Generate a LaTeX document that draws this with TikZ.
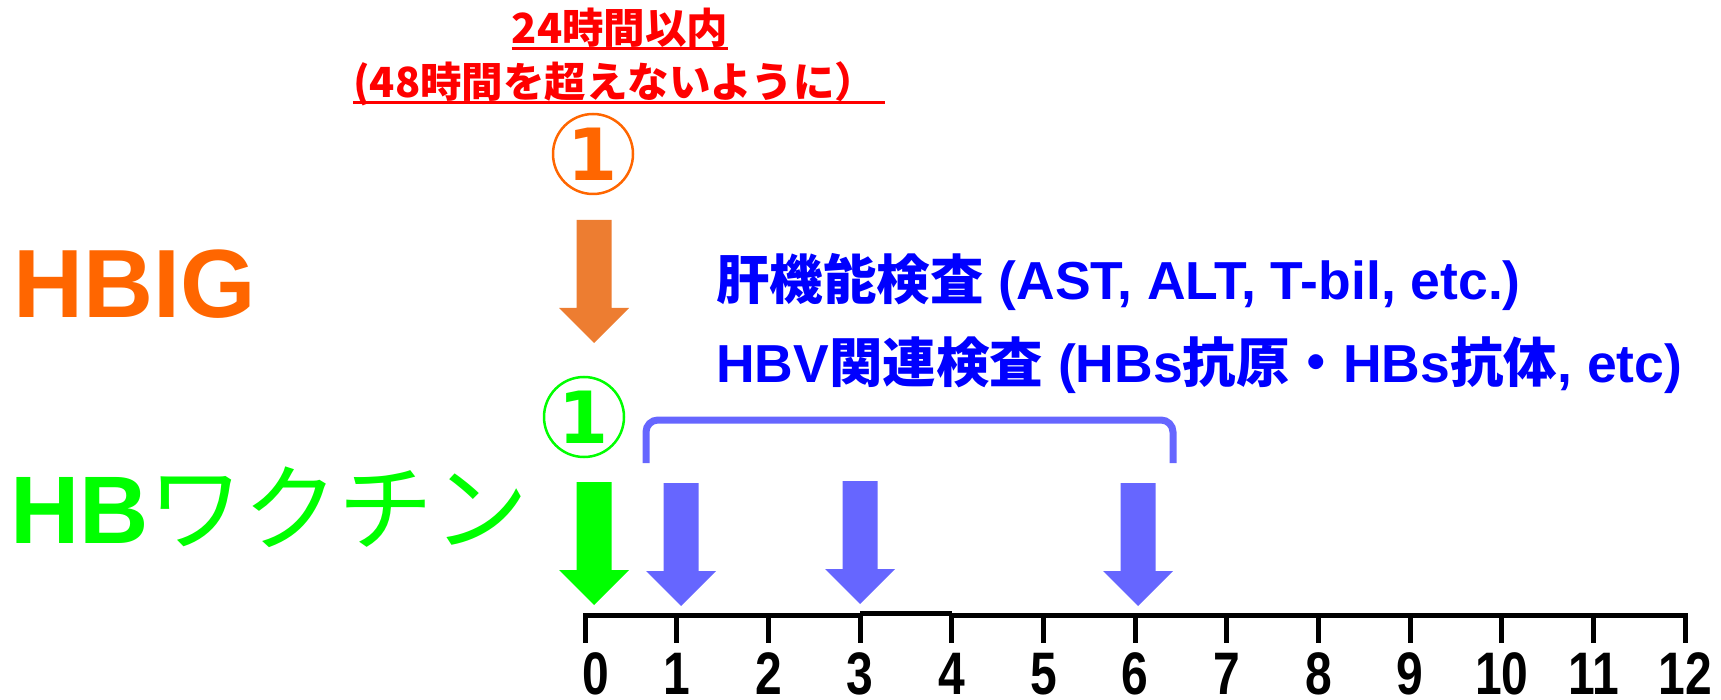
\documentclass[tikz,border=0pt]{standalone}
\usepackage{fontspec}
\setmainfont{Liberation Sans}
\newfontfamily\jp{Noto Sans CJK JP}
\newfontfamily\numfont[FakeStretch=0.8]{Liberation Sans}
\newfontfamily\circfont{DejaVu Sans}
\definecolor{hbig}{RGB}{255,102,0}
\definecolor{arroworange}{RGB}{237,125,49}
\definecolor{vgreen}{RGB}{0,255,0}
\definecolor{lblue}{RGB}{102,102,255}
\definecolor{tblue}{RGB}{0,0,255}
\definecolor{tred}{RGB}{255,0,0}
\tikzset{
  blockarrow/.pic={
    \fill (-17.5,0) -- (17.5,0) -- (17.5,88) -- (35,88) -- (0,123) -- (-35,88) -- (-17.5,88) -- cycle;
  },
  redtxt/.style={text=tred, inner sep=0, font=\jp\bfseries\fontsize{41.5}{45}\selectfont},
  bluetxt/.style={text=tblue, inner sep=0, anchor=base west, font=\bfseries\fontsize{53.5}{58}\selectfont},
  bigtxt/.style={inner sep=0, anchor=base west, font=\bfseries\fontsize{97}{107}\selectfont},
  numlbl/.style={inner sep=0, anchor=base, font=\numfont\bfseries\fontsize{60}{66}\selectfont},
  circnum/.style={circle, line width=2.5, minimum size=80, inner sep=0, font=\circfont\bfseries\fontsize{72}{76}\selectfont},
  axisline/.style={line width=5, black},
  ulin/.style={tred, line width=3},
}
\begin{document}
\begin{tikzpicture}[x=1pt,y=-1pt]
\useasboundingbox (0,0) rectangle (1721,700);

% red notes
\node[redtxt, anchor=base] (r1) at (620,44) {24時間以内};
\draw[ulin] ([yshift=-5pt]r1.base west) -- ([yshift=-5pt]r1.base east);
\node[redtxt, anchor=base west] (r2) at (353,98) {(48時間を超えないように）};
\coordinate (r2e) at (885,103);
\draw[ulin] ([yshift=-5pt]r2.base west) -- (r2e);

% left labels
\node[bigtxt, text=hbig] (hbig) at (13,318) {HBIG};
\node[bigtxt, text=vgreen, font=\bfseries\fontsize{96}{106}\selectfont] (hbv) at (10,543) {HB{\jp\mdseries\fontsize{95}{100}\selectfont ワクチン}};

% circled ones
\node[circnum, draw=hbig, text=hbig] (c1) at (593,154) {1};
\node[circnum, draw=vgreen, text=vgreen] (c2) at (584,417) {1};

% block arrows
\pic[fill=arroworange] at (594,220) {blockarrow};
\pic[fill=vgreen] at (594,482) {blockarrow};
\pic[fill=lblue] at (681,483) {blockarrow};
\pic[fill=lblue] at (860,481) {blockarrow};
\pic[fill=lblue] at (1138,483) {blockarrow};

% blue texts
\node[bluetxt] (b1) at (716,300) {{\jp 肝機能検査} (AST, ALT, T-bil, etc.)};
\node[bluetxt] (b2) at (716,382) {HBV{\jp 関連検査} (HBs{\jp 抗原・}HBs{\jp 抗体}, etc)};

% bracket
\coordinate (bl) at (646,463);
\coordinate (br) at (1173,463);
\draw[lblue, line width=7, rounded corners=12] (bl) -- (646,420) -- (1173,420) -- (br);

% axis
\draw[axisline] (583,615) -- (860,615);
\draw[axisline] (860,613) -- (952,613);
\draw[axisline] (952,615) -- (1688,615);
\foreach \k in {0,...,12}{
  \coordinate (t\k) at ({585+91.67*\k},615);
  \draw[axisline] (t\k) -- ++(0,28);
}
\node[numlbl] (l0) at (596,694) {0};
\foreach \k in {1,...,12}{
  \node[numlbl] (l\k) at ({585+91.67*\k},694) {\k};
}
\end{tikzpicture}
\end{document}
